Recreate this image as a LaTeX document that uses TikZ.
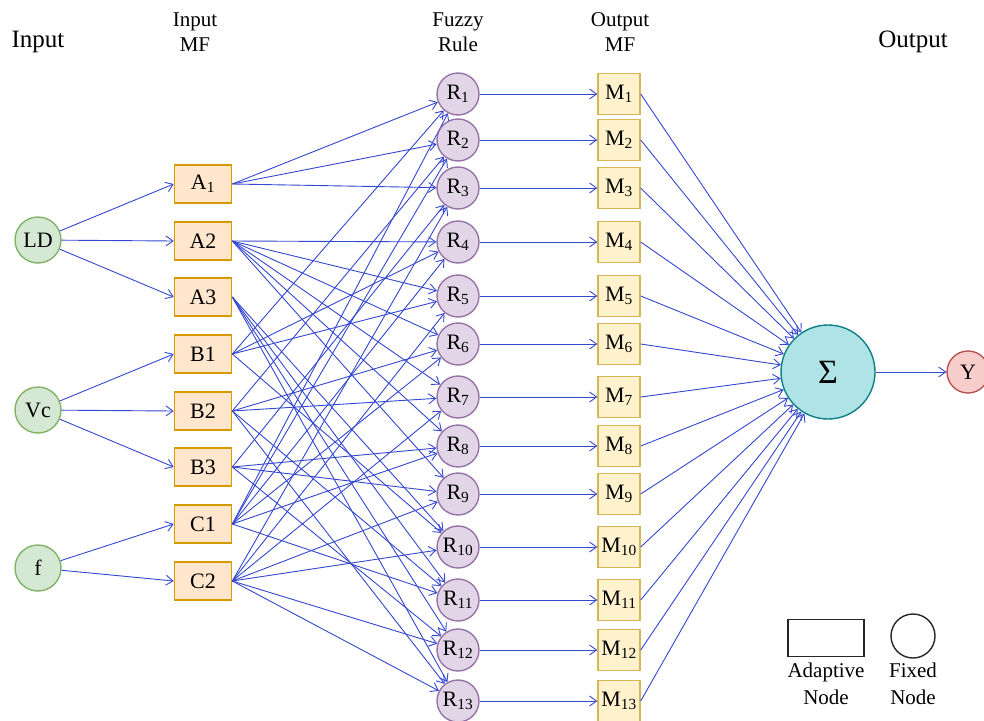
\documentclass[tikz,border=0pt]{standalone}
\usepackage{fontspec}
\setmainfont{Liberation Serif}
\usetikzlibrary{arrows.meta}
\definecolor{ingreen}{HTML}{82B366}
\definecolor{infill}{HTML}{D5E8D4}
\definecolor{mfdraw}{HTML}{D79B00}
\definecolor{mffill}{HTML}{FFE6CC}
\definecolor{rudraw}{HTML}{9673A6}
\definecolor{rufill}{HTML}{E1D5E7}
\definecolor{omdraw}{HTML}{D6B656}
\definecolor{omfill}{HTML}{FFF2CC}
\definecolor{sgdraw}{HTML}{0E8088}
\definecolor{sgfill}{HTML}{B0E3E6}
\definecolor{ydraw}{HTML}{B85450}
\definecolor{yfill}{HTML}{F8CECC}
\definecolor{linkblue}{HTML}{3347D0}
\begin{document}
\begin{tikzpicture}[x=1pt,y=-1pt,
  every node/.style={font=\fontsize{22}{26}\selectfont},
  inp/.style={circle, draw=ingreen, fill=infill, line width=1.4pt, minimum size=46pt, inner sep=0pt},
  mfbox/.style={rectangle, draw=mfdraw, fill=mffill, line width=1.6pt, minimum width=57pt, minimum height=38pt, inner sep=0pt},
  rulenode/.style={circle, draw=rudraw, fill=rufill, line width=1.4pt, minimum size=42pt, inner sep=0pt},
  omf/.style={rectangle, draw=omdraw, fill=omfill, line width=1.4pt, minimum width=42pt, minimum height=41pt, inner sep=0pt},
  hdr/.style={align=center, font=\fontsize{21}{25}\selectfont},
  conn/.style={draw=linkblue, line width=0.9pt, -{Straight Barb[length=7pt,width=10pt]}}
]
\useasboundingbox (0,0) rectangle (984,720);

% headers
\node[font=\fontsize{25}{28}\selectfont] (hin) at (38,42) {Input};
\node[hdr] (hmf) at (195,32) {Input\\MF};
\node[hdr] (hru) at (458,32) {Fuzzy\\Rule};
\node[hdr] (hom) at (620,32) {Output\\MF};
\node[font=\fontsize{25}{28}\selectfont] (hout) at (913,42) {Output};

% inputs
\node[inp] (LD) at (38,240) {LD};
\node[inp] (Vc) at (38,410) {Vc};
\node[inp] (f)  at (38,568) {f};

% input MFs
\node[mfbox] (A1) at (203,184) {A\textsubscript{1}};
\node[mfbox] (A2) at (203,241) {A2};
\node[mfbox] (A3) at (203,297) {A3};
\node[mfbox] (B1) at (203,354) {B1};
\node[mfbox] (B2) at (203,411) {B2};
\node[mfbox] (B3) at (203,467) {B3};
\node[mfbox] (C1) at (203,524) {C1};
\node[mfbox] (C2) at (203,581) {C2};

\foreach \m in {A1,A2,A3} \draw[conn] (LD) -- (\m.west);
\foreach \m in {B1,B2,B3} \draw[conn] (Vc) -- (\m.west);
\foreach \m in {C1,C2} \draw[conn] (f) -- (\m.west);

% sum and output
\node[circle, draw=sgdraw, fill=sgfill, line width=1.4pt, minimum size=94pt, inner sep=0pt, font=\fontsize{34}{34}\selectfont] (S) at (828,372) {Σ};
\node[circle, draw=ydraw, fill=yfill, line width=1.4pt, minimum size=42pt, inner sep=0pt] (Y) at (968,372) {Y};
\draw[conn] (S) -- (Y);

% rules and output MFs
\foreach \i/\yy/\a/\b/\c in {1/94/A1/B1/C1, 2/140/A1/B2/C1, 3/188/A1/B3/C2,
  4/242/A2/B1/C1, 5/296/A2/B1/C2, 6/344/A2/B2/C1, 7/397/A2/B2/C2,
  8/446/A2/B3/C1, 9/494/A2/B3/C2, 10/547/A3/B1/C2, 11/600/A3/B2/C1,
  12/650/A3/B3/C2, 13/701/A3/B2/C2} {
  \node[rulenode] (R\i) at (458,\yy) {R\textsubscript{\i}};
  \node[omf] (M\i) at (619,\yy) {M\textsubscript{\i}};
  \draw[conn] (\a.east) -- (R\i);
  \draw[conn] (\b.east) -- (R\i);
  \draw[conn] (\c.east) -- (R\i);
  \draw[conn] (R\i) -- (M\i);
  \draw[conn] (M\i.east) -- (S);
}

% legend
\node[rectangle, draw=black!85, line width=1.4pt, minimum width=76pt, minimum height=37pt, inner sep=0pt] (legA) at (826,638) {};
\node[circle, draw=black!85, line width=1.4pt, minimum size=44pt, inner sep=0pt] (legF) at (913,636) {};
\node[align=center, font=\fontsize{21}{27}\selectfont] (legAt) at (826,684) {Adaptive\\Node};
\node[align=center, font=\fontsize{21}{27}\selectfont] (legFt) at (913,684) {Fixed\\Node};
\end{tikzpicture}
\end{document}
